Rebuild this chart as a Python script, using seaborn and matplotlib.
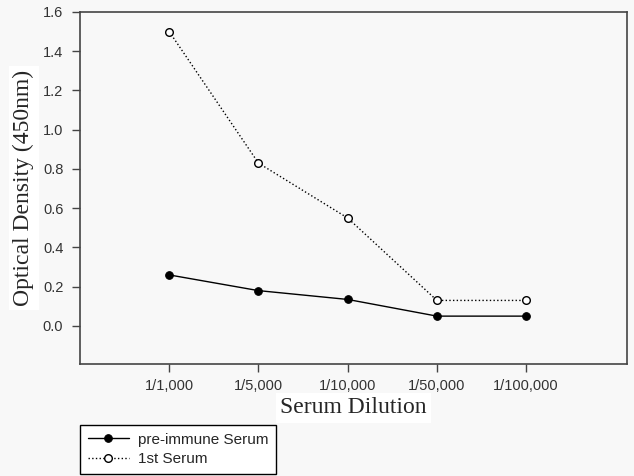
import numpy as np
import pandas as pd
import seaborn as sns
import matplotlib.pyplot as plt

dilutions = ["1/1,000", "1/5,000", "1/10,000", "1/50,000", "1/100,000"]
pre_immune = [0.26, 0.18, 0.135, 0.05, 0.05]
first_serum = [1.50, 0.83, 0.55, 0.13, 0.13]

sns.set_style("ticks")
plt.rcParams["font.family"] = ["Liberation Sans", "DejaVu Sans"]

bg = "#f8f8f8"
fig = plt.figure(figsize=(6.34, 4.76), dpi=100, facecolor=bg)
ax = fig.add_axes([80 / 634, 112 / 476, 547 / 634, 352 / 476], facecolor=bg)

pos = np.arange(len(dilutions))
df = pd.DataFrame({"pos": pos, "pre": pre_immune, "first": first_serum})

sns.lineplot(data=df, x="pos", y="first", ax=ax, color="black", lw=1.0,
             linestyle=":", marker="o", markerfacecolor="white",
             markeredgecolor="black", markersize=5.5, markeredgewidth=1.0,
             label="1st Serum")
sns.lineplot(data=df, x="pos", y="pre", ax=ax, color="black", lw=1.0,
             marker="o", markerfacecolor="black", markeredgecolor="black",
             markersize=5.5, label="pre-immune Serum")

ax.set_xlim(-1.0, 5.13)
ax.set_ylim(-0.194, 1.6)
ax.set_xticks(pos)
ax.set_xticklabels(dilutions)
ax.set_yticks(np.arange(0, 1.61, 0.2))
ax.set_yticklabels([f"{v:.1f}" for v in np.arange(0, 1.61, 0.2)])
ax.tick_params(axis="both", direction="out", length=6, width=1,
               colors="#444444", labelsize=10.5, labelcolor="#333333")
ax.tick_params(axis="x", pad=5)
ax.tick_params(axis="y", pad=6)
for s in ax.spines.values():
    s.set_color("#444444")
    s.set_linewidth(1.2)

ax.set_xlabel("Serum Dilution", family="Liberation Serif", fontsize=17,
              labelpad=3,
              bbox=dict(facecolor="white", edgecolor="none", pad=3))
ax.set_ylabel("Optical Density (450nm)", family="Liberation Serif",
              fontsize=17, labelpad=6,
              bbox=dict(facecolor="white", edgecolor="none", pad=3))

handles, labels = ax.get_legend_handles_labels()
ax.legend_.remove()
leg = fig.legend(handles[::-1], labels[::-1], loc="upper left",
                 bbox_to_anchor=(80 / 634, 51 / 476), fontsize=11,
                 frameon=True, fancybox=False, handlelength=2.7,
                 borderpad=0.5, labelspacing=0.35, handletextpad=0.6,
                 borderaxespad=0)
leg.get_frame().set_edgecolor("black")
leg.get_frame().set_facecolor("white")
leg.get_frame().set_alpha(1)
leg.get_frame().set_linewidth(1.0)

plt.savefig("out.png", dpi=100, facecolor=bg)
plt.close()
